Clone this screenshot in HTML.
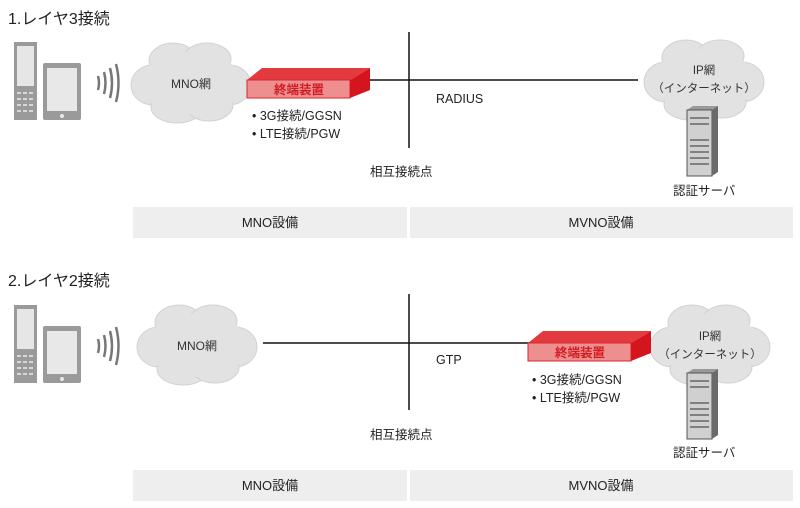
<!DOCTYPE html>
<html><head><meta charset="utf-8"><style>
html,body{margin:0;padding:0;background:#fff}
svg{display:block}
text{font-family:"Liberation Sans","Noto Sans CJK JP",sans-serif;fill:#222}
</style></head><body>
<svg width="800" height="508" viewBox="0 0 800 508" xmlns="http://www.w3.org/2000/svg">
<defs>
<g id="cloud">
<g fill="#e2e2e2" stroke="#d2d2d2" stroke-width="1">
<ellipse cx="0" cy="0" rx="50" ry="28"/>
<ellipse cx="-38" cy="2" rx="22" ry="20"/>
<ellipse cx="38" cy="2" rx="22" ry="20"/>
<ellipse cx="-18" cy="-22" rx="24" ry="18"/>
<ellipse cx="16" cy="-24" rx="24" ry="16"/>
<ellipse cx="-14" cy="24" rx="26" ry="16"/>
<ellipse cx="18" cy="22" rx="24" ry="16"/>
</g>
<g fill="#e2e2e2"><ellipse cx="0" cy="0" rx="52" ry="30"/><ellipse cx="-18" cy="-18" rx="22" ry="16"/><ellipse cx="16" cy="-20" rx="22" ry="14"/><ellipse cx="-14" cy="20" rx="24" ry="14"/><ellipse cx="18" cy="18" rx="22" ry="14"/><ellipse cx="-36" cy="2" rx="20" ry="18"/><ellipse cx="36" cy="2" rx="20" ry="18"/></g>
</g>
<g id="devices">
<rect x="14" y="42" width="23" height="78" fill="#9a9a9a"/>
<rect x="17" y="46" width="17" height="40" fill="#e6e6e6"/>
<g fill="#d8d8d8"><rect x="17" y="92" width="4" height="2"/><rect x="23" y="92" width="4" height="2"/><rect x="29" y="92" width="4" height="2"/>
<rect x="17" y="98" width="4" height="2"/><rect x="23" y="98" width="4" height="2"/><rect x="29" y="98" width="4" height="2"/>
<rect x="17" y="104" width="4" height="2"/><rect x="23" y="104" width="4" height="2"/><rect x="29" y="104" width="4" height="2"/>
<rect x="17" y="110" width="4" height="2"/><rect x="23" y="110" width="4" height="2"/><rect x="29" y="110" width="4" height="2"/></g>
<rect x="43" y="63" width="38" height="57" rx="2" fill="#9a9a9a"/>
<rect x="47" y="68" width="30" height="43" fill="#e8e8e8"/>
<circle cx="62" cy="116" r="2" fill="#e8e8e8"/>
<g fill="none" stroke="#777" stroke-width="2.5">
<path d="M98 76 Q100 83 98 90"/><path d="M104 72 Q107 83 104 94"/><path d="M110 68 Q114 83 110 98"/><path d="M116 64 Q121 83 116 102"/>
</g>
</g>
<g id="box">
<polygon points="0,12 15,0 123,0 103,12" fill="#e23a3e"/>
<rect x="0" y="12" width="103" height="18" fill="#ee8f8f" stroke="#d9262c" stroke-width="1"/>
<polygon points="103,12 123,0 123,22 103,30" fill="#d5151d"/>
<text x="52" y="26" font-size="12.5" font-weight="bold" text-anchor="middle" style="fill:#d21a22">終端装置</text>
</g>
<g id="server">
<polygon points="0,4 6,0 31,0 25,4" fill="#999"/>
<rect x="0" y="4" width="25" height="66" fill="#d0d0d0" stroke="#555" stroke-width="1"/>
<polygon points="25,4 31,0 31,66 25,70" fill="#6a6a6a"/>
<g stroke="#666" stroke-width="1.5"><line x1="3" y1="12" x2="22" y2="12"/><line x1="3" y1="18" x2="22" y2="18"/><line x1="3" y1="34" x2="22" y2="34"/><line x1="3" y1="40" x2="22" y2="40"/><line x1="3" y1="46" x2="22" y2="46"/><line x1="3" y1="52" x2="22" y2="52"/><line x1="3" y1="58" x2="22" y2="58"/></g>
</g>
</defs>

<!-- Section 1 -->
<text x="8" y="24" font-size="16">1.レイヤ3接続</text>
<use href="#devices"/>
<use href="#cloud" transform="translate(191,83)"/>
<text x="191" y="88" font-size="12" text-anchor="middle" style="fill:#333">MNO網</text>
<line x1="370" y1="80" x2="638" y2="80" stroke="#111" stroke-width="1.5"/>
<line x1="409" y1="32" x2="409" y2="148" stroke="#111" stroke-width="1.5"/>
<use href="#box" transform="translate(247,68)"/>
<text x="252" y="120" font-size="12.5">• 3G接続/GGSN</text>
<text x="252" y="138" font-size="12.5">• LTE接続/PGW</text>
<text x="436" y="103" font-size="12.5">RADIUS</text>
<text x="370" y="176" font-size="12.5">相互接続点</text>
<use href="#cloud" transform="translate(704,80)"/>
<text x="704" y="74" font-size="11.5" text-anchor="middle" style="fill:#333">IP網</text>
<text x="704" y="92" font-size="11.5" text-anchor="middle" style="fill:#333">（インターネット）</text>
<use href="#server" transform="translate(687,106)"/>
<text x="673" y="195" font-size="12.5">認証サーバ</text>
<rect x="133" y="207" width="274" height="31" fill="#eeeeee"/>
<rect x="410" y="207" width="383" height="31" fill="#eeeeee"/>
<text x="270" y="227" font-size="13" text-anchor="middle">MNO設備</text>
<text x="601" y="227" font-size="13" text-anchor="middle">MVNO設備</text>

<!-- Section 2 -->
<text x="8" y="286" font-size="16">2.レイヤ2接続</text>
<use href="#devices" transform="translate(0,263)"/>
<use href="#cloud" transform="translate(197,345)"/>
<text x="197" y="350" font-size="12" text-anchor="middle" style="fill:#333">MNO網</text>
<line x1="263" y1="343" x2="530" y2="343" stroke="#111" stroke-width="1.5"/>
<line x1="409" y1="294" x2="409" y2="410" stroke="#111" stroke-width="1.5"/>
<use href="#cloud" transform="translate(710,345)"/>
<text x="710" y="340" font-size="11.5" text-anchor="middle" style="fill:#333">IP網</text>
<text x="710" y="358" font-size="11.5" text-anchor="middle" style="fill:#333">（インターネット）</text>
<use href="#box" transform="translate(528,331)"/>
<text x="532" y="384" font-size="12.5">• 3G接続/GGSN</text>
<text x="532" y="402" font-size="12.5">• LTE接続/PGW</text>
<text x="436" y="364" font-size="12.5">GTP</text>
<text x="370" y="439" font-size="12.5">相互接続点</text>
<use href="#server" transform="translate(687,369)"/>
<text x="673" y="457" font-size="12.5">認証サーバ</text>
<rect x="133" y="470" width="274" height="31" fill="#eeeeee"/>
<rect x="410" y="470" width="383" height="31" fill="#eeeeee"/>
<text x="270" y="490" font-size="13" text-anchor="middle">MNO設備</text>
<text x="601" y="490" font-size="13" text-anchor="middle">MVNO設備</text>
</svg>
</body></html>
